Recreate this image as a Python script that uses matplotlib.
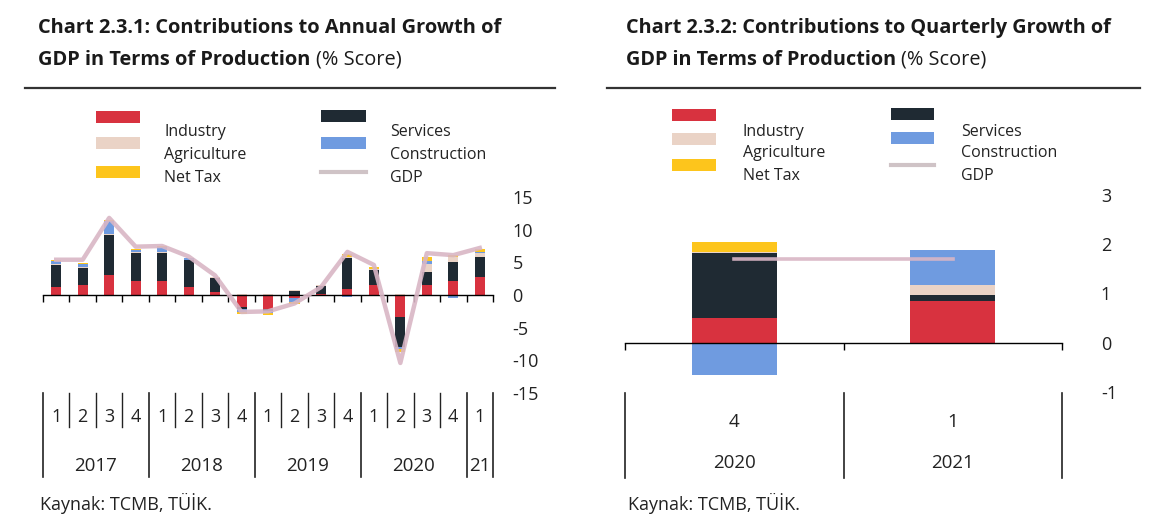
import matplotlib
matplotlib.use("Agg")
import matplotlib.pyplot as plt
from matplotlib.lines import Line2D
from matplotlib.patches import Rectangle
import numpy as np

W, H = 1149, 522

# ---- data: chart 2.3.1 (annual growth contributions)
ann_quarters = ["1", "2", "3", "4"] * 4 + ["1"]
ann_years = ["2017", "2018", "2019", "2020", "21"]
ann_industry = [1.2, 1.5, 3.0, 2.1, 2.1, 1.3, 0.5, -1.8, -2.1, -0.4, 0.2, 0.9, 1.5, -3.3, 1.5, 2.1, 2.8]
ann_services = [3.4, 2.6, 6.2, 4.3, 4.3, 4.0, 2.1, -0.3, -0.3, 0.6, 1.2, 4.7, 2.3, -4.6, 2.0, 2.9, 3.0]
ann_agriculture = [0.2, 0.2, 0.2, 0.2, 0.2, 0.1, 0.1, 0.1, 0.1, 0.1, 0.1, 0.2, 0.2, 0.2, 1.3, 0.8, 0.6]
ann_construction = [0.4, 0.4, 1.9, 0.3, 0.8, 0.2, -0.2, -0.5, -0.4, -0.6, -0.2, -0.3, -0.2, -0.3, 0.4, -0.5, 0.2]
ann_nettax = [0.1, 0.2, 0.2, 0.2, 0.1, 0.1, 0.1, -0.3, -0.2, -0.4, 0.1, 0.4, 0.3, -0.6, 0.6, 0.3, 0.4]
ann_gdp = [5.4, 5.4, 11.8, 7.4, 7.5, 5.9, 3.0, -2.6, -2.5, -1.3, 1.2, 6.6, 4.6, -10.4, 6.4, 6.1, 7.2]

# ---- data: chart 2.3.2 (quarterly growth contributions)
qtr_quarters = ["4", "1"]
qtr_years = ["2020", "2021"]
qtr_industry = [0.5, 0.85]
qtr_services = [1.32, 0.12]
qtr_agriculture = [0.02, 0.2]
qtr_construction = [-0.65, 0.71]
qtr_nettax = [0.2, 0.0]
qtr_gdp = [1.7, 1.7]

names = ["Industry", "Services", "Agriculture", "Construction", "Net Tax"]
colors = {"Industry": "#d8323f", "Services": "#1f2a33", "Agriculture": "#ead3c6",
          "Construction": "#6f9be0", "Net Tax": "#fdc51c"}
gdp_col = "#d9b6c5"
txt_col = "#222222"

plt.rcParams["font.family"] = ["Open Sans", "DejaVu Sans"]

fig = plt.figure(figsize=(W / 100, H / 100), dpi=100)


def px_axes(x0, y_top, x1, y_bot):
    return fig.add_axes([x0 / W, 1 - y_bot / H, (x1 - x0) / W, (y_bot - y_top) / H])


def stacked(ax, series, width):
    x = np.arange(len(series[0][1]))
    pos = np.zeros(len(x))
    neg = np.zeros(len(x))
    for name, vals in series:
        v = np.array(vals)
        base = np.where(v >= 0, pos, neg)
        ax.bar(x, v, width, bottom=base, color=colors[name], linewidth=0, zorder=2)
        pos = pos + np.where(v >= 0, v, 0)
        neg = neg + np.where(v < 0, v, 0)
    return x


def style(ax, n, ylim, yticks, pad):
    ax.set_xlim(-0.5, n - 0.5)
    ax.set_ylim(*ylim)
    for s in ["left", "right", "top"]:
        ax.spines[s].set_visible(False)
    ax.spines["bottom"].set_position(("data", 0))
    ax.spines["bottom"].set_linewidth(1.0)
    ax.set_xticks(np.arange(n + 1) - 0.5)
    ax.set_xticklabels([])
    ax.tick_params(axis="x", direction="out", length=5, width=1)
    ax.yaxis.tick_right()
    ax.set_yticks(yticks)
    ax.set_yticklabels([str(t) for t in yticks])
    ax.tick_params(axis="y", length=0, pad=pad, labelsize=13, labelcolor=txt_col)


# ---------------- left chart
ax1 = px_axes(43, 197, 493, 393)
ser1 = list(zip(names, [ann_industry, ann_services, ann_agriculture, ann_construction, ann_nettax]))
x1 = stacked(ax1, ser1, 0.38)
ax1.plot(x1, ann_gdp, color=gdp_col, lw=3.2, alpha=0.9, zorder=3, solid_joinstyle="round")
style(ax1, len(ann_gdp), (-15, 15), [15, 10, 5, 0, -5, -10, -15], 14)

tr = ax1.get_xaxis_transform()
for i, q in enumerate(ann_quarters):
    ax1.text(i, -0.125, q, transform=tr, ha="center", va="center", fontsize=13, color=txt_col)
for i in range(1, len(ann_quarters)):
    if i % 4 != 0:
        ax1.plot([i - 0.5, i - 0.5], [0.0, -0.173], transform=tr, color=txt_col, lw=1, clip_on=False)
year_edges = [0, 4, 8, 12, 16, 17]
for e in year_edges:
    ax1.plot([e - 0.5, e - 0.5], [0.0, -0.429], transform=tr, color=txt_col, lw=1.2, clip_on=False)
for k, yl in enumerate(ann_years):
    c = (year_edges[k] + year_edges[k + 1]) / 2 - 0.5
    ax1.text(c, -0.37, yl, transform=tr, ha="center", va="center", fontsize=13.5, color=txt_col)

# ---------------- right chart
ax2 = px_axes(625, 195, 1062, 392)
ser2 = list(zip(names, [qtr_industry, qtr_services, qtr_agriculture, qtr_construction, qtr_nettax]))
x2 = stacked(ax2, ser2, 0.39)
ax2.plot(x2, qtr_gdp, color=gdp_col, lw=2.6, alpha=0.9, zorder=3)
style(ax2, 2, (-1, 3), [3, 2, 1, 0, -1], 28)

tr2 = ax2.get_xaxis_transform()
for i in range(2):
    ax2.text(i, -0.152, qtr_quarters[i], transform=tr2, ha="center", va="center", fontsize=13.5, color=txt_col)
    ax2.text(i, -0.36, qtr_years[i], transform=tr2, ha="center", va="center", fontsize=13.5, color=txt_col)
for e in range(3):
    ax2.plot([e - 0.5, e - 0.5], [-0.005, -0.437], transform=tr2, color=txt_col, lw=1.2, clip_on=False)


# ---------------- legends (drawn by hand to follow the scanned layout)
def legend(px_patch_l, px_text_l, patch_ys, text_ys, labels, pw):
    for (lab, py, ty) in zip(labels, patch_ys, text_ys):
        if lab == "GDP":
            fig.add_artist(Line2D([px_patch_l / W, (px_patch_l + pw) / W], [1 - py / H, 1 - py / H],
                                  color="#cfc3c6", lw=3))
        else:
            fig.add_artist(Rectangle((px_patch_l / W, 1 - (py + 6) / H), pw / W, 12 / H,
                                     color=colors[lab], transform=fig.transFigure, lw=0))
        fig.text(px_text_l / W, 1 - ty / H, lab, fontsize=11.5, va="center", ha="left", color=txt_col)


legend(96, 164, [117, 143, 172], [132, 155, 178], ["Industry", "Agriculture", "Net Tax"], 44)
legend(321, 390, [116, 143, 172], [132, 155, 178], ["Services", "Construction", "GDP"], 45)
legend(672, 743, [115, 139, 165], [132, 153, 176], ["Industry", "Agriculture", "Net Tax"], 44)
legend(891, 961, [114, 138, 165], [132, 153, 176], ["Services", "Construction", "GDP"], 43)

# ---------------- titles, rules, source
fig.canvas.draw()
rend = fig.canvas.get_renderer()


def title(x, size, line1, line2b, line2n):
    fig.text(x / W, 1 - 28 / H, line1, fontsize=size, fontweight="bold", va="center", color="#1a1a1a")
    t = fig.text(x / W, 1 - 60 / H, line2b, fontsize=size, fontweight="bold", va="center", color="#1a1a1a")
    bb = t.get_window_extent(rend)
    fig.text(bb.x1 / W, 1 - 60 / H, line2n, fontsize=size, va="center", color="#1a1a1a")


title(38, 14.4, "Chart 2.3.1: Contributions to Annual Growth of", "GDP in Terms of Production ", "(% Score)")
title(626, 14.3, "Chart 2.3.2: Contributions to Quarterly Growth of", "GDP in Terms of Production ", "(% Score)")

fig.add_artist(Line2D([25 / W, 555 / W], [1 - 88 / H] * 2, color="#333333", lw=1.6))
fig.add_artist(Line2D([607 / W, 1140 / W], [1 - 88 / H] * 2, color="#333333", lw=1.6))

fig.text(40 / W, 1 - 503 / H, "Kaynak: TCMB, TÜİK.", fontsize=13, va="center", color=txt_col)
fig.text(628 / W, 1 - 503 / H, "Kaynak: TCMB, TÜİK.", fontsize=13, va="center", color=txt_col)

fig.savefig("out.png", dpi=100)
